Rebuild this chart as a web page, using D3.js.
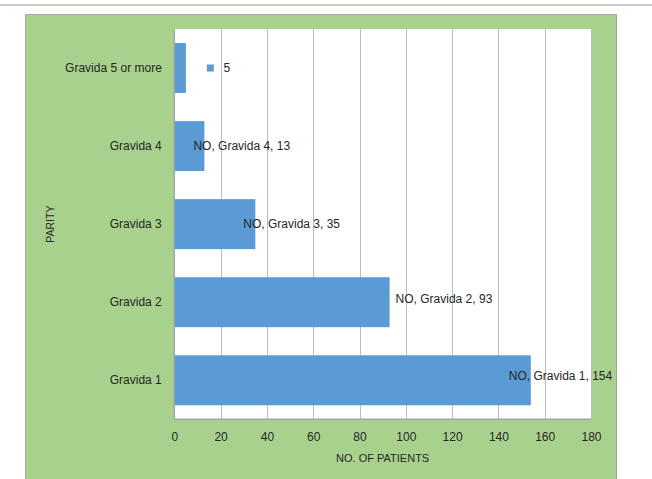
<!DOCTYPE html>
<html>
<head>
<meta charset="utf-8">
<script src="https://cdn.jsdelivr.net/npm/d3@7"></script>
<style>
  html, body { margin: 0; padding: 0; background: #ffffff; }
  svg { display: block; font-family: "Liberation Sans", Arial, sans-serif; }
</style>
</head>
<body>
<svg id="chart" width="652" height="479"></svg>
<script>
// ---- data ----
const categories = ["Gravida 1", "Gravida 2", "Gravida 3", "Gravida 4", "Gravida 5 or more"];
const seriesName = "NO";
const values = [154, 93, 35, 13, 5];
const xTicks = [0, 20, 40, 60, 80, 100, 120, 140, 160, 180];
const xTitle = "NO. OF PATIENTS";
const yTitle = "PARITY";
// label layout (offset from bar end, px) and kind
const labelDx = [-22, 6, -12, -11, 21];
const labelDy = [-4, -3, 0, 0, 0];
const labelKind = ["full", "full", "full", "full", "key"];

// ---- layout ----
const W = 652, H = 479;
const plot = { left: 174.3, right: 591, top: 29, bottom: 419.3 };
const green = "#a9d18e";
const barColor = "#5b9bd5";
const gridColor = "#bcbcbc";
const textColor = "#262626";

const svg = d3.select("#chart");

// top separator line
svg.append("rect").attr("x", 0).attr("y", 4).attr("width", W).attr("height", 2).attr("fill", "#cbcbcb");

// chart area
svg.append("rect")
  .attr("x", 25.5).attr("y", 14.5).attr("width", 591).attr("height", 470)
  .attr("fill", green).attr("stroke", "#a5a5a5").attr("stroke-width", 1);

// plot area
svg.append("rect")
  .attr("x", plot.left).attr("y", plot.top)
  .attr("width", plot.right - plot.left).attr("height", plot.bottom - plot.top)
  .attr("fill", "#ffffff");

const x = d3.scaleLinear().domain([0, 180]).range([plot.left, plot.right]);
const y = d3.scaleBand()
  .domain(categories.slice().reverse())
  .range([plot.top, plot.bottom])
  .paddingInner(0.36).paddingOuter(0.18);

// gridlines
svg.append("g").selectAll("line")
  .data(xTicks.filter(t => t > 0))
  .join("line")
  .attr("x1", d => Math.round(x(d)) + 0.5).attr("x2", d => Math.round(x(d)) + 0.5)
  .attr("y1", plot.top).attr("y2", plot.bottom)
  .attr("stroke", gridColor).attr("stroke-width", 1);

// bottom border & left axis line
svg.append("line")
  .attr("x1", plot.left).attr("x2", plot.right + 0.5)
  .attr("y1", plot.bottom).attr("y2", plot.bottom)
  .attr("stroke", "#a6a6a6").attr("stroke-width", 1.5);
svg.append("line")
  .attr("x1", plot.left).attr("x2", plot.left)
  .attr("y1", plot.top).attr("y2", plot.bottom)
  .attr("stroke", "#a6a6a6").attr("stroke-width", 1.5);

// bars
svg.append("g").selectAll("rect")
  .data(categories)
  .join("rect")
  .attr("x", x(0) + 0.5)
  .attr("y", d => y(d))
  .attr("width", (d, i) => x(values[i]) - x(0) - 0.5)
  .attr("height", y.bandwidth())
  .attr("fill", barColor);

// x axis tick labels
const xAxis = d3.axisBottom(x).tickValues(xTicks).tickSize(0).tickPadding(0);
const gx = svg.append("g").attr("transform", `translate(0,${plot.bottom})`).call(xAxis);
gx.select(".domain").remove();
gx.selectAll("text")
  .attr("y", 17.5).attr("dy", "0.35em")
  .attr("font-size", 12).attr("fill", textColor)
  .attr("font-family", "Liberation Sans, Arial, sans-serif");

// y axis labels
const yAxis = d3.axisLeft(y).tickSize(0).tickPadding(0);
const gy = svg.append("g").attr("transform", `translate(${plot.left},0)`).call(yAxis);
gy.select(".domain").remove();
gy.selectAll("text")
  .attr("x", -12.5).attr("dy", "0.35em")
  .attr("font-size", 12).attr("fill", textColor)
  .attr("font-family", "Liberation Sans, Arial, sans-serif");

// axis titles
svg.append("text")
  .attr("x", (plot.left + plot.right) / 2).attr("y", 457.7).attr("dy", "0.35em")
  .attr("text-anchor", "middle").attr("font-size", 11).attr("fill", textColor)
  .text(xTitle);
svg.append("text")
  .attr("transform", `translate(50.7,${(plot.top + plot.bottom) / 2}) rotate(-90)`)
  .attr("dy", "0.35em")
  .attr("text-anchor", "middle").attr("font-size", 10.5).attr("fill", textColor)
  .text(yTitle);

// data labels
const lg = svg.append("g");
categories.forEach((c, i) => {
  const cx = x(values[i]) + labelDx[i];
  const cy = y(c) + y.bandwidth() / 2 + labelDy[i];
  if (labelKind[i] === "key") {
    lg.append("rect").attr("x", cx).attr("y", cy - 3.5).attr("width", 7).attr("height", 7).attr("fill", barColor);
    lg.append("text").attr("x", cx + 16.5).attr("y", cy).attr("dy", "0.35em")
      .attr("font-size", 12).attr("fill", textColor).text(values[i]);
  } else {
    lg.append("text").attr("x", cx).attr("y", cy).attr("dy", "0.35em")
      .attr("font-size", 12).attr("fill", textColor)
      .text(`${seriesName}, ${c}, ${values[i]}`);
  }
});
</script>
</body>
</html>
